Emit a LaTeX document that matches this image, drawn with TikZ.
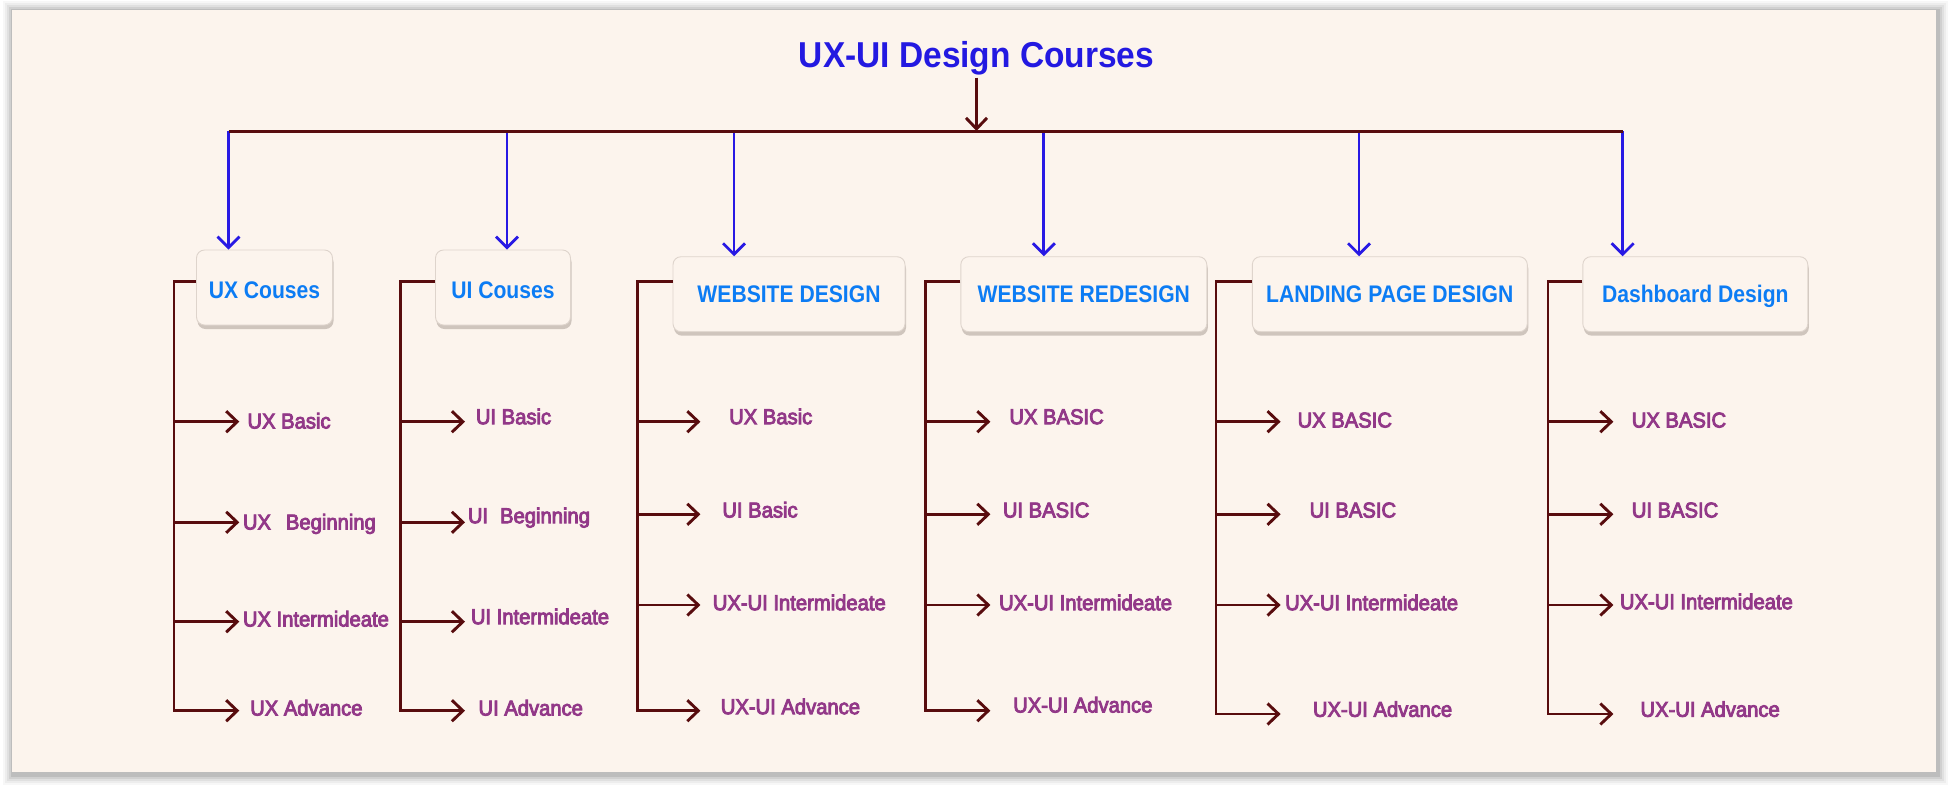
\documentclass[tikz,border=0pt]{standalone}
\usepackage{fontspec}
\setmainfont{Liberation Sans}
\newfontfamily\titlefont{Liberation Sans}[FakeStretch=0.93]
\newfontfamily\boxfont{Liberation Sans}[FakeStretch=0.88]
\newfontfamily\leaffont{Liberation Sans}[FakeStretch=0.94,FakeBold=4]
\usetikzlibrary{arrows.meta,shadows}
\definecolor{cMaroon}{RGB}{88,12,14}
\definecolor{cLineBlue}{RGB}{40,25,228}
\definecolor{cTitle}{RGB}{35,25,225}
\definecolor{cBoxText}{RGB}{12,124,244}
\definecolor{cLeaf}{RGB}{146,56,136}
\definecolor{cPanel}{RGB}{252,244,237}
\definecolor{cBoxBorder}{RGB}{222,212,204}
\definecolor{cBoxShadow}{RGB}{196,186,178}
\begin{document}
\begin{tikzpicture}[x=1pt,y=-1pt,
  mline/.style={draw=cMaroon, line width=2.9pt},
  marrow/.style={mline, -{Straight Barb[length=11pt,width=21pt]}},
  barrow/.style={draw=cLineBlue, line width=2.8pt, -{Straight Barb[length=11pt,width=22pt]}},
  course/.style={draw=cBoxBorder, line width=0.9pt, fill=cPanel, rounded corners=8pt,
    text=cBoxText, font=\boxfont\bfseries\fontsize{24}{26}\selectfont, inner sep=0pt,
    minimum height=75pt, text height=17pt, text depth=0pt,
    drop shadow={shadow xshift=1pt, shadow yshift=-4pt, fill=cBoxShadow, opacity=0.8}},
  leaf/.style={text=cLeaf, font=\leaffont\fontsize{21.5}{24}\selectfont, inner sep=0pt, anchor=base west},
  titlestyle/.style={text=cTitle, font=\titlefont\bfseries\fontsize{36}{40}\selectfont, inner sep=0pt, anchor=base}
]
\useasboundingbox (0,0) rectangle (1952,788);
\fill[white] (0,0) rectangle (1952,788);
% panel shadow
\foreach \d/\o in {10/0.03,8/0.04,6/0.05,4/0.07,2/0.09}
  \fill[black, opacity=\o] (12-\d+1, 10-\d+1) rectangle (1936+\d+2, 772+\d+3);
\fill[cPanel] (12,10) rectangle (1936,772);

% title
\node[titlestyle] (title) at (976.5,67.7) {UX-UI Design Courses};

% course boxes
\node[course, minimum width=136pt, text height=22pt] (b1) at (264.5,287.5) {UX Couses};
\node[course, minimum width=135pt, text height=21pt] (b2) at (503,287.5) {UI Couses};
\node[course, minimum width=232pt] (b3) at (789,294.2) {WEBSITE DESIGN};
\node[course, minimum width=246pt] (b4) at (1083.8,294.2) {WEBSITE REDESIGN};
\node[course, minimum width=275pt] (b5) at (1389.8,294.2) {LANDING PAGE DESIGN};
\node[course, minimum width=225pt] (b6) at (1695.3,294.2) {Dashboard Design};

% main distribution line
\coordinate (h1) at (228.5,131);
\coordinate (h2) at (507,131);
\coordinate (h3) at (734,131);
\coordinate (h4) at (1043.8,131);
\coordinate (h5) at (1359,131);
\coordinate (h6) at (1622.7,131);
\foreach \i in {1,...,6}
  \draw[barrow] (h\i) -- (h\i |- b\i.north);
\draw[mline, line width=3pt] (h1) -- (h6);
\coordinate (hm) at (975.5,131);
\draw[marrow] ([yshift=-2pt]title.south) -- (title.south |- hm);

% brackets
\foreach \c/\sx/\tx/\ya/\yb/\yc/\yd/\ys in {
  1/174/239.3/421.7/522.3/621.7/710.7/5.8,
  2/400.4/465/421.7/522.3/621.7/710.7/5.8,
  3/637.3/700.4/421.7/514.3/605/710.7/12.5,
  4/925.5/990.4/421.7/514.3/605/710.7/12.5,
  5/1216/1280.6/421.7/514.3/605/714/12.5,
  6/1548/1613.4/421.7/514.3/605/714/12.5}{
  \coordinate (s\c d) at (\sx,\yd);
  \coordinate (t\c a) at (\tx,\ya);
  \coordinate (t\c b) at (\tx,\yb);
  \coordinate (t\c c) at (\tx,\yc);
  \coordinate (t\c d) at (\tx,\yd);
  \draw[marrow] ([yshift=\ys pt]b\c.west) -| (s\c d) -- (t\c d);
  \draw[marrow] (s\c d |- t\c a) -- (t\c a);
  \draw[marrow] (s\c d |- t\c b) -- (t\c b);
  \draw[marrow] (s\c d |- t\c c) -- (t\c c);
}

% leaves column 1
\node[leaf] (l1a) at (247.3,428.5) {UX Basic};
\node[leaf] (l1b) at (242.7,529.5) {UX\hspace{15pt}Beginning};
\node[leaf] (l1c) at (242.7,626.5) {UX Intermideate};
\node[leaf] (l1d) at (250,715.5) {UX Advance};
% column 2
\node[leaf] (l2a) at (475.7,424.2) {UI Basic};
\node[leaf] (l2b) at (467.7,523.2) {UI\hspace{12pt}Beginning};
\node[leaf] (l2c) at (470.7,624.2) {UI Intermideate};
\node[leaf] (l2d) at (478.3,715.5) {UI Advance};
% column 3
\node[leaf] (l3a) at (729,424.2) {UX Basic};
\node[leaf] (l3b) at (722.2,517.5) {UI Basic};
\node[leaf] (l3c) at (712.6,610.2) {UX-UI Intermideate};
\node[leaf] (l3d) at (720.6,714.2) {UX-UI Advance};
% column 4
\node[leaf] (l4a) at (1009.2,424.2) {UX BASIC};
\node[leaf] (l4b) at (1002.7,517.5) {UI BASIC};
\node[leaf] (l4c) at (998.9,610.2) {UX-UI Intermideate};
\node[leaf] (l4d) at (1013,712.5) {UX-UI Advance};
% column 5
\node[leaf] (l5a) at (1297.4,427.5) {UX BASIC};
\node[leaf] (l5b) at (1309.4,517.5) {UI BASIC};
\node[leaf] (l5c) at (1284.9,610.2) {UX-UI Intermideate};
\node[leaf] (l5d) at (1312.7,716.8) {UX-UI Advance};
% column 6
\node[leaf] (l6a) at (1631.6,427.5) {UX BASIC};
\node[leaf] (l6b) at (1631.6,517.5) {UI BASIC};
\node[leaf] (l6c) at (1619.7,609.2) {UX-UI Intermideate};
\node[leaf] (l6d) at (1640.3,716.8) {UX-UI Advance};
\end{tikzpicture}
\end{document}
